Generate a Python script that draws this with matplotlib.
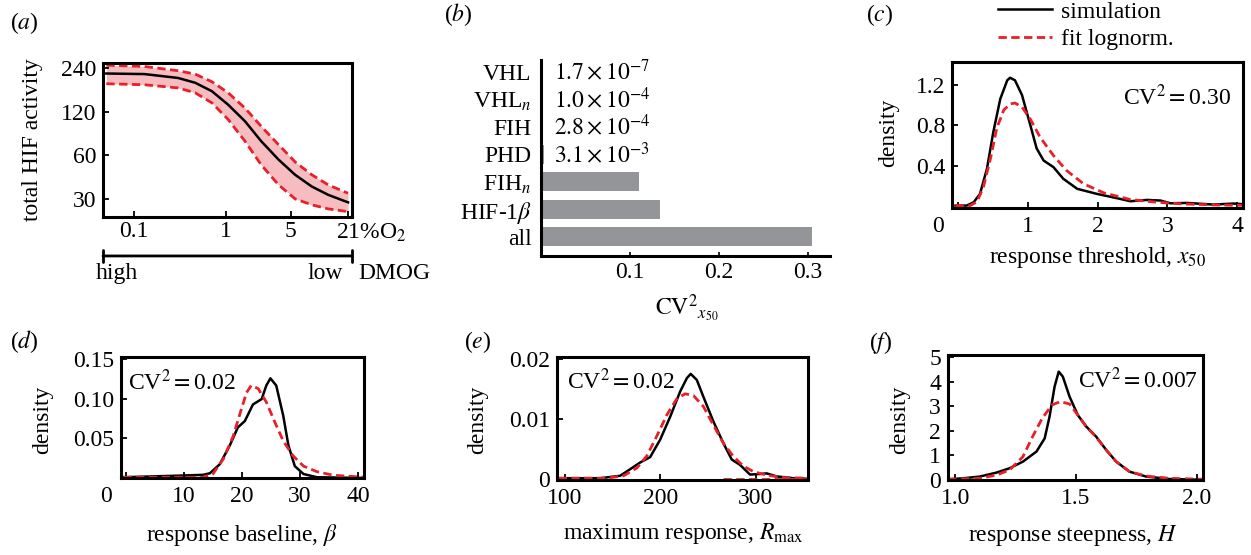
import matplotlib.pyplot as plt
from matplotlib.transforms import ScaledTranslation

plt.rcParams['font.family'] = 'serif'
plt.rcParams['font.serif'] = ['Liberation Serif', 'DejaVu Serif']
plt.rcParams['mathtext.fontset'] = 'stix'
plt.rcParams['font.size'] = 17

W, H = 1251, 555
RED = '#e8202a'
PINK = '#f6bcc0'
GREY = '#939598'

# (a) total HIF activity vs O2
o2 = [0.05, 0.13, 0.3, 0.46, 0.7, 1.05, 1.6, 2.4, 3.7, 5.6, 8.5, 12.8, 21]
hif_mean = [220, 218, 205, 190, 166, 134, 103, 75, 56, 44, 36.5, 32, 28.4]
hif_upper = [251, 246, 230, 218, 193, 162, 127, 95, 71, 54, 44, 37.5, 32.8]
hif_lower = [187, 184, 175, 162, 138, 106, 75, 51.5, 37.5, 30, 27.3, 25.6, 24.5]
o2_ticks = [0.1, 1, 5, 21]
o2_ticklabels = ['0.1', '1', '5', '']
hif_ticks = [30, 60, 120, 240]

# (b) CV^2 of x50
cv_names = ['all', r'HIF-1$\beta$', r'FIH$_n$', 'PHD', 'FIH', r'VHL$_n$', 'VHL']
cv_values = [0.305, 0.134, 0.110, 3.1e-3, 2.8e-4, 1.0e-4, 1.7e-7]
cv_text = ['', '', '', r'$3.1\times10^{-3}$', r'$2.8\times10^{-4}$',
           r'$1.0\times10^{-4}$', r'$1.7\times10^{-7}$']

# (c) response threshold x50
c_sim_x = [-0.03, 0.13, 0.23, 0.32, 0.42, 0.51, 0.61, 0.71, 0.75, 0.82, 0.92, 1.04, 1.13,
           1.23, 1.37, 1.51, 1.71, 1.99, 2.28, 2.47, 2.71, 2.90, 3.04, 3.28, 3.66, 3.94, 4.08]
c_sim_y = [0.004, 0.004, 0.037, 0.12, 0.37, 0.73, 1.06, 1.245, 1.27, 1.245, 1.10, 0.80, 0.57,
           0.45, 0.385, 0.27, 0.17, 0.12, 0.077, 0.047, 0.06, 0.054, 0.027, 0.03, 0.014, 0.024, 0.018]
c_fit_x = [-0.03, 0.18, 0.28, 0.37, 0.47, 0.56, 0.66, 0.75, 0.82, 0.92, 1.04, 1.18, 1.37,
           1.56, 1.80, 2.09, 2.47, 2.85, 3.23, 3.70, 4.08]
c_fit_y = [0.004, 0.004, 0.044, 0.19, 0.47, 0.77, 0.95, 1.01, 1.02, 0.98, 0.86, 0.68, 0.50,
           0.35, 0.22, 0.13, 0.064, 0.037, 0.02, 0.01, 0.007]

# (d) response baseline beta
d_sim_x = [-0.4, 9.3, 13.3, 14.5, 16.2, 17.9, 19.3, 20.5, 21.9, 23.4, 24.2, 24.9, 25.9,
           27.1, 28.0, 29.1, 30.6, 32.9, 40.9]
d_sim_y = [0.001, 0.003, 0.004, 0.006, 0.0175, 0.041, 0.064, 0.072, 0.093, 0.0998, 0.117,
           0.126, 0.117, 0.079, 0.041, 0.015, 0.005, 0.001, 0.0]
d_fit_x = [-0.4, 13.3, 15.0, 16.8, 18.5, 19.9, 20.8, 21.6, 22.8, 24.2, 25.7, 27.1, 28.8,
           30.6, 32.9, 35.7, 40.9]
d_fit_y = [0.001, 0.001, 0.005, 0.024, 0.053, 0.087, 0.108, 0.117, 0.113, 0.096, 0.070,
           0.047, 0.028, 0.015, 0.008, 0.0035, 0.001]

# (e) maximum response Rmax
e_sim_x = [93.5, 137, 158, 168.6, 179, 189.5, 200, 210.5, 221, 228, 232, 238.4, 245.3,
           255.8, 266.3, 275, 283.8, 294.2, 304.7, 311.7, 322, 339.7, 355]
e_sim_y = [0.0002, 0.0002, 0.0006, 0.0017, 0.0028, 0.0037, 0.0066, 0.0104, 0.0146, 0.0168,
           0.0175, 0.0165, 0.0137, 0.0096, 0.006, 0.0033, 0.0024, 0.0008, 0.0009, 0.001,
           0.0005, 0.0002, 0.0001]
e_fit_x = [93.5, 144, 161.6, 175.6, 186, 196.5, 207, 217.5, 226.2, 234.9, 245.3, 255.8,
           266.3, 276.8, 287.3, 297.7, 311.7, 329, 355]
e_fit_y = [0.0002, 0.0002, 0.0006, 0.0019, 0.0039, 0.0072, 0.0107, 0.0134, 0.0142, 0.0139,
           0.0121, 0.0090, 0.006, 0.0038, 0.0022, 0.0013, 0.0007, 0.0003, 0.0002]
e_fit_base_x = [266, 355]
e_fit_base_y = [0.0, 0.0]

# (f) response steepness H
f_sim_x = [0.97, 1.032, 1.101, 1.17, 1.225, 1.28, 1.336, 1.37, 1.39, 1.411, 1.428, 1.445,
           1.473, 1.507, 1.542, 1.583, 1.625, 1.666, 1.721, 1.79, 1.886, 2.024]
f_sim_y = [0.03, 0.07, 0.14, 0.30, 0.48, 0.75, 1.16, 1.70, 2.58, 3.81, 4.42, 4.22, 3.40,
           2.65, 2.18, 1.77, 1.22, 0.75, 0.34, 0.14, 0.04, 0.01]
f_fit_x = [0.97, 1.101, 1.17, 1.225, 1.28, 1.32, 1.36, 1.40, 1.435, 1.473, 1.507, 1.542,
           1.583, 1.625, 1.666, 1.721, 1.79, 1.886, 2.024]
f_fit_y = [0.03, 0.07, 0.20, 0.41, 0.95, 1.77, 2.52, 3.06, 3.20, 3.10, 2.65, 2.18, 1.75,
           1.22, 0.75, 0.34, 0.16, 0.07, 0.03]


fig = plt.figure(figsize=(W / 100, H / 100), dpi=100)


def box(l, t, r, b):
    # pixel edges -> figure fraction
    return fig.add_axes([l / W, 1 - b / H, (r - l) / W, (b - t) / H])


def frame(ax, xpad=6, ypad=5):
    for s in ax.spines.values():
        s.set_linewidth(2.2)
    ax.tick_params(direction='in', length=4, width=1.3, top=False, right=False)
    ax.tick_params(axis='x', pad=xpad)
    ax.tick_params(axis='y', pad=ypad)
    ax.minorticks_off()


def ftext(x, y, s, **kw):
    kw.setdefault('ha', 'center')
    kw.setdefault('va', 'center')
    fig.text(x / W, 1 - y / H, s, **kw)


def shift_first(ax, px):
    lab = ax.get_xticklabels()[0]
    lab.set_transform(lab.get_transform() + ScaledTranslation(px / 100, 0, fig.dpi_scale_trans))


# ---------- (a) ----------
ax = box(103, 63, 352, 217)
ax.fill_between(o2, hif_lower, hif_upper, color=PINK, lw=0)
ax.plot(o2, hif_upper, color=RED, ls='--', lw=2, dashes=(3, 1.6))
ax.plot(o2, hif_lower, color=RED, ls='--', lw=2, dashes=(3, 1.6))
ax.plot(o2, hif_mean, color='k', lw=1.8)
ax.set_xscale('log')
ax.set_yscale('log')
ax.set_xlim(0.046, 23.2)
ax.set_ylim(22.5, 260)
frame(ax, xpad=3)
ax.set_xticks(o2_ticks, labels=o2_ticklabels)
ax.set_yticks(hif_ticks, labels=[str(v) for v in hif_ticks])
ax.minorticks_off()
ax.text(21, -0.105, r'21%O$_2$', transform=ax.get_xaxis_transform(), ha='left', va='center')
shift = ax.texts[-1]
shift.set_transform(shift.get_transform() + ScaledTranslation(-12 / 100, 0, fig.dpi_scale_trans))
ax.annotate('', xy=(0, -0.253), xytext=(1, -0.253), xycoords='axes fraction',
            arrowprops=dict(arrowstyle='|-|,widthA=0.25,widthB=0.25', lw=2, shrinkA=0, shrinkB=0))
ftext(117, 273, 'high')
ftext(325, 273, 'low')
ftext(358, 273, 'DMOG', ha='left')
ftext(33, 140, 'total HIF activity', rotation=90)
ftext(24, 23, r'($a$)')

# ---------- (b) ----------
ax = box(541.3, 60, 830, 256)
rows = range(len(cv_names))
ax.barh(rows, cv_values, height=0.69, color=GREY)
ax.set_xlim(0, 0.325)
ax.set_ylim(-0.71, 6.44)
for s in ['top', 'right']:
    ax.spines[s].set_visible(False)
for s in ['left', 'bottom']:
    ax.spines[s].set_linewidth(2.2)
ax.set_yticks(list(rows), labels=cv_names)
ax.set_xticks([0.1, 0.2, 0.3], labels=['0.1', '0.2', '0.3'])
ax.tick_params(axis='y', length=0, pad=7)
ax.tick_params(axis='x', direction='in', length=3, width=1.2, pad=4)
for i, t in enumerate(cv_text):
    ax.text(0.0143, i, t, va='center', ha='left')
ftext(687, 308, r'${\mathrm{CV}^2}_{x_{50}}$')
ftext(458, 15, r'($b$)')

# ---------- (c) ----------
ax = box(952, 62, 1243, 208)
ax.plot(c_sim_x, c_sim_y, color='k', lw=1.8, label='simulation')
ax.plot(c_fit_x, c_fit_y, color=RED, lw=2, ls='--', dashes=(3, 1.6), label='fit lognorm.')
ax.set_xlim(-0.08, 4.08)
ax.set_ylim(-0.02, 1.426)
frame(ax)
ax.set_xticks([0, 1, 2, 3, 4], labels=['0', '1', '2', '3', '4'])
ax.set_yticks([0.4, 0.8, 1.2], labels=['0.4', '0.8', '1.2'])
shift_first(ax, -20)
ax.text(0.96, 0.76, r'CV$^2$$=$0.30', transform=ax.transAxes, ha='right', va='center')
ax.legend(loc='upper left', bbox_to_anchor=(998 / W, 1 - 1 / H), bbox_transform=fig.transFigure,
          frameon=False, handlelength=2.3, handletextpad=0.35, labelspacing=0.25,
          borderpad=0, borderaxespad=0)
ftext(889, 133, 'density', rotation=90)
ftext(1097, 258, r'response threshold, $x_{50}$')
ftext(880, 15, r'($c$)')

# ---------- (d) ----------
ax = box(121, 357, 364, 478)
ax.plot(d_sim_x, d_sim_y, color='k', lw=1.8)
ax.plot(d_fit_x, d_fit_y, color=RED, lw=2, ls='--', dashes=(3, 1.6))
ax.set_xlim(-0.8, 41)
ax.set_ylim(0, 0.153)
frame(ax)
ax.set_xticks([0, 10, 20, 30, 40], labels=['0', '10', '20', '30', '40'])
ax.set_yticks([0.05, 0.10, 0.15], labels=['0.05', '0.10', '0.15'])
shift_first(ax, -20)
ax.text(0.03, 0.79, r'CV$^2$$=$0.02', transform=ax.transAxes, ha='left', va='center')
ftext(43, 420, 'density', rotation=90)
ftext(242, 535, r'response baseline, $\beta$')
ftext(24, 342, r'($d$)')

# ---------- (e) ----------
ax = box(557, 357, 808, 480)
ax.plot(e_sim_x, e_sim_y, color='k', lw=1.8)
ax.plot(e_fit_x, e_fit_y, color=RED, lw=2, ls='--', dashes=(3, 1.6))
ax.plot(e_fit_base_x, e_fit_base_y, color=RED, lw=2, ls='--', dashes=(3, 1.6))
ax.set_xlim(91.8, 355)
ax.set_ylim(-0.0001, 0.0203)
frame(ax)
ax.set_xticks([100, 200, 300], labels=['100', '200', '300'])
ax.set_yticks([0, 0.01, 0.02], labels=['0', '0.01', '0.02'])
ax.text(0.04, 0.80, r'CV$^2$$=$0.02', transform=ax.transAxes, ha='left', va='center')
ftext(478, 420, 'density', rotation=90)
ftext(683, 533, r'maximum response, $R_{\mathrm{max}}$')
ftext(478, 342, r'($e$)')

# ---------- (f) ----------
ax = box(948, 355, 1203, 480)
ax.plot(f_sim_x, f_sim_y, color='k', lw=1.8)
ax.plot(f_fit_x, f_fit_y, color=RED, lw=2, ls='--', dashes=(3, 1.6))
ax.set_xlim(0.97, 2.025)
ax.set_ylim(0, 5.1)
frame(ax)
ax.set_xticks([1.0, 1.5, 2.0], labels=['1.0', '1.5', '2.0'])
ax.set_yticks([0, 1, 2, 3, 4, 5], labels=['0', '1', '2', '3', '4', '5'])
ax.text(0.98, 0.80, r'CV$^2$$=$0.007', transform=ax.transAxes, ha='right', va='center')
ftext(900, 420, 'density', rotation=90)
ftext(1073, 535, r'response steepness, $H$')
ftext(881, 343, r'($f$)')

fig.savefig('out.png', dpi=100)
